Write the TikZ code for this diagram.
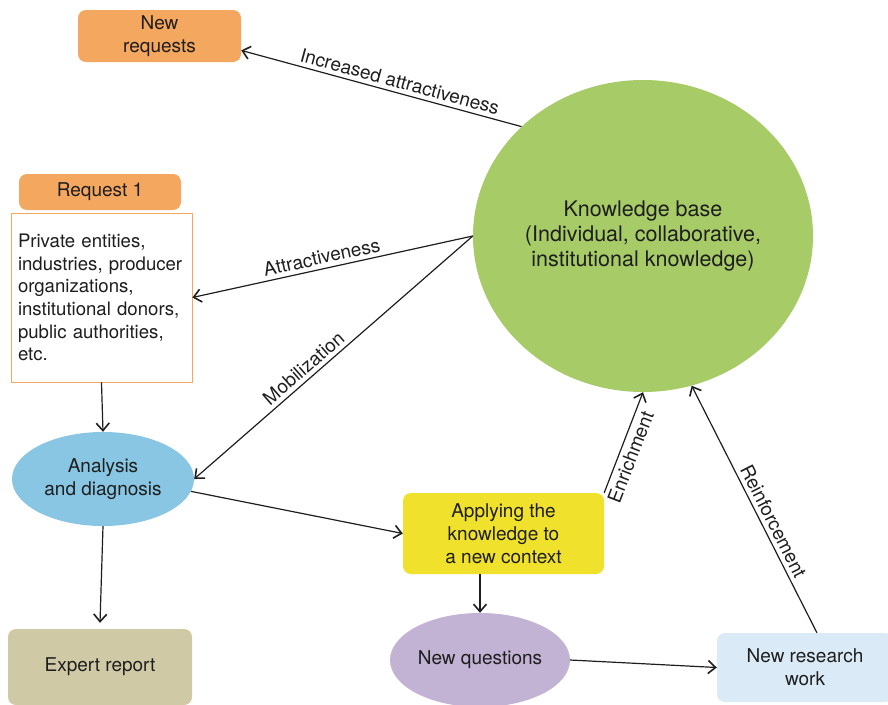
\documentclass[tikz,border=0pt]{standalone}
\usepackage{fontspec}
\setmainfont{TeX Gyre Heros}
\usetikzlibrary{arrows.meta,shapes.geometric,calc}

\definecolor{boxorange}{HTML}{F4A75E}
\definecolor{kbgreen}{HTML}{A6CB67}
\definecolor{anablue}{HTML}{89C6E4}
\definecolor{reptan}{HTML}{D0C9A6}
\definecolor{appyellow}{HTML}{F0E12C}
\definecolor{nqpurple}{HTML}{C2B2D3}
\definecolor{reslblue}{HTML}{DAEAF6}
\definecolor{inkcol}{HTML}{1E1E1E}

\begin{document}
\begin{tikzpicture}[x=1pt,y=-1pt,
  every node/.style={font=\fontsize{19}{23}\selectfont, text=inkcol},
  rbox/.style={rounded corners=8pt, inner sep=0pt, align=center},
  oval/.style={ellipse, inner sep=0pt, align=center},
  arr/.style={draw=inkcol, line width=1.2pt,
    -{Straight Barb[length=7.5pt,width=13pt,line width=1.6pt]}},
  lbl/.style={sloped, inner sep=4pt}
]
\clip (0,0) rectangle (888,704);

% boxes and ovals
\node[rbox, fill=boxorange, minimum width=163, minimum height=52] (newreq) at (159.5,36) {New\\requests};
\node[rbox, fill=boxorange, minimum width=162, minimum height=36] (req) at (100,192) {Request 1};
\node[draw=boxorange, fill=white, line width=0.8pt, minimum width=181, minimum height=169,
      text width=167, align=left, inner xsep=7, inner ysep=0,
      font=\fontsize{18.6}{22.7}\selectfont] (inst) at (101.5,297.5)
      {Private entities,\\ \mbox{industries, producer}\\ organizations,\\ \mbox{institutional donors,}\\ public authorities,\\ etc.};
\node[oval, fill=anablue, minimum width=182, minimum height=94] (ana) at (103,479) {Analysis\\and diagnosis};
\node[rbox, fill=reptan, minimum width=184, minimum height=76] (exp) at (100,667) {Expert report};
\node[rbox, fill=appyellow, minimum width=201, minimum height=81] (app) at (503.5,533.5) {Applying the\\knowledge to\\a new context};
\node[oval, fill=nqpurple, minimum width=180, minimum height=94] (nq) at (480,660) {New questions};
\node[rbox, fill=reslblue, minimum width=176, minimum height=69] (res) at (805,667.5) {New research\\work};
\node[oval, fill=kbgreen, minimum width=340, minimum height=312,
      font=\fontsize{21.5}{25}\selectfont] (kb) at (643,236)
      {Knowledge base\\(Individual, collaborative,\\institutional knowledge)};

% connectors
\draw[arr] (kb.138) -- node[lbl, above, pos=0.445] {Increased attractiveness} (newreq.-10);
\draw[arr] (kb.west) -- node[lbl, above, pos=0.53] {Attractiveness} (inst.east);
\draw[arr] (kb.west) -- node[lbl, above, pos=0.58] {Mobilization} (ana.east);
\draw[arr] (inst.south) -- (ana.north);
\draw[arr] (ana.-8) -- (app.west);
\draw[arr] (ana.south) -- ($(exp.north)+(0,-6)$);
\draw[arr] (app.south -| nq.north) -- (nq.north);
\draw[arr] (nq.east) -- (res.west);
\draw[arr] (app.north east) -- node[lbl, below, pos=0.4] {Enrichment} (kb.270);
\draw[arr] (res.71) -- node[lbl, above, pos=0.43] {Reinforcement} (kb.-72);
\end{tikzpicture}
\end{document}
